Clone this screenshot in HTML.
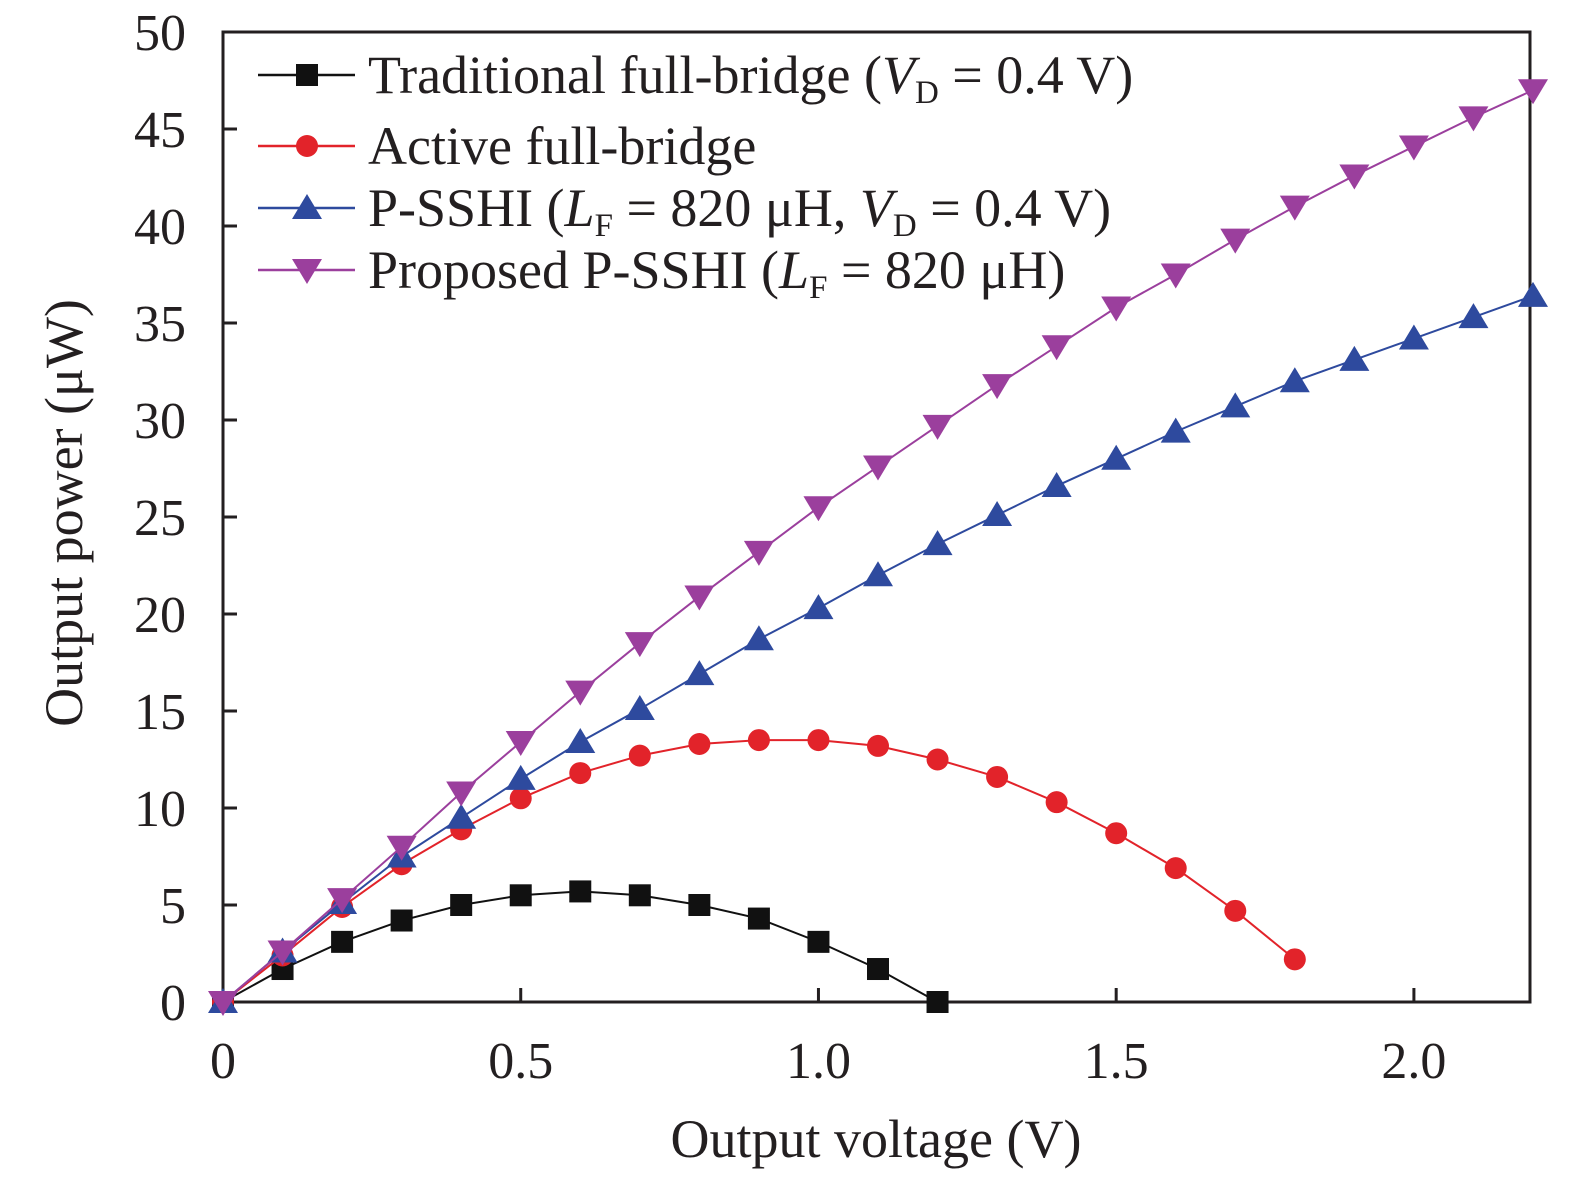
<!DOCTYPE html>
<html><head><meta charset="utf-8"><style>
html,body{margin:0;padding:0;background:#fff}
svg{display:block;font-family:"Liberation Serif",serif}
</style></head><body>
<svg id="chart" width="1575" height="1177" viewBox="0 0 1575 1177" xmlns="http://www.w3.org/2000/svg">
<g id="axes"></g><g id="series"></g><g id="legend"></g>
<text x="876" y="1157" font-size="54" text-anchor="middle" fill="#231f20">Output voltage (V)</text>
<text transform="translate(82,513) rotate(-90)" font-size="54" text-anchor="middle" fill="#231f20">Output power (μW)</text>
</svg>
<script>
const xVals=[0,0.1,0.2,0.3,0.4,0.5,0.6,0.7,0.8,0.9,1.0,1.1,1.2,1.3,1.4,1.5,1.6,1.7,1.8,1.9,2.0,2.1,2.2];
const traditional=[0,1.7,3.1,4.2,5.0,5.5,5.7,5.5,5.0,4.3,3.1,1.7,0];
const active=[0,2.4,4.9,7.1,8.9,10.5,11.8,12.7,13.3,13.5,13.5,13.2,12.5,11.6,10.3,8.7,6.9,4.7,2.2];
const psshi=[0,2.6,5.1,7.5,9.5,11.5,13.4,15.1,16.9,18.7,20.3,22.0,23.6,25.1,26.6,28.0,29.4,30.7,32.0,33.1,34.2,35.3,36.4];
const proposed=[0,2.6,5.3,8.0,10.8,13.4,16.0,18.5,20.9,23.2,25.5,27.6,29.7,31.8,33.8,35.8,37.5,39.3,41.0,42.6,44.1,45.6,47.0];
const xTicks=[0,0.5,1.0,1.5,2.0];
const xTickLabels=["0","0.5","1.0","1.5","2.0"];
const yTicks=[0,5,10,15,20,25,30,35,40,45,50];
const NS="http://www.w3.org/2000/svg";
const X0=223,X1=1533,Y0=1002,Y1=32;
const xs=v=>X0+v/2.2*(X1-X0);
const ys=v=>Y0-v/50*(Y0-Y1);
function mk(t,a,p){const e=document.createElementNS(NS,t);for(const k in a)e.setAttribute(k,a[k]);p.appendChild(e);return e;}
const axes=document.getElementById('axes');
const frame=mk('rect',{x:X0,y:Y1,width:X1-3-X0,height:Y0-Y1,fill:'none',stroke:'#231f20','stroke-width':3},axes);


xTicks.forEach((v,i)=>{
  const t=mk('line',{x1:xs(v),x2:xs(v),y1:Y0,y2:Y0-14,stroke:'#231f20','stroke-width':3},axes);
  
  
  const l=mk('text',{x:xs(v),y:1078,'font-size':52,'text-anchor':'middle',fill:'#231f20'},axes);
  l.textContent=xTickLabels[i];
  
  
});
yTicks.forEach(v=>{
  const t=mk('line',{x1:X0,x2:X0+14,y1:ys(v),y2:ys(v),stroke:'#231f20','stroke-width':3},axes);
  
  
  const l=mk('text',{x:186,y:ys(v)+18,'font-size':52,'text-anchor':'end',fill:'#231f20'},axes);
  l.textContent=v;
  
  
});
function marker(type,cx,cy,color,p){
  let e;
  if(type==='sq')e=mk('rect',{x:cx-11,y:cy-11,width:22,height:22,fill:color},p);
  else if(type==='ci')e=mk('circle',{cx:cx,cy:cy,r:11,fill:color},p);
  else if(type==='up')e=mk('polygon',{points:`${cx},${cy-14} ${cx-15},${cy+11} ${cx+15},${cy+11}`,fill:color},p);
  else e=mk('polygon',{points:`${cx},${cy+14} ${cx-15},${cy-11} ${cx+15},${cy-11}`,fill:color},p);
  return e;
}
const series=document.getElementById('series');
const defs=[
 {d:traditional,c:'#111',m:'sq',n:'traditional-full-bridge'},
 {d:active,c:'#e2232a',m:'ci',n:'active-full-bridge'},
 {d:psshi,c:'#2e4a9e',m:'up',n:'p-sshi'},
 {d:proposed,c:'#9b3f9d',m:'dn',n:'proposed-p-sshi'}];
defs.forEach(s=>{
  const g=mk('g',{},series);
  
  
  const pts=s.d.map((v,i)=>xs(xVals[i])+','+ys(v)).join(' ');
  mk('polyline',{points:pts,fill:'none',stroke:s.c,'stroke-width':2},g);
  s.d.forEach((v,i)=>{
    const m=marker(s.m,xs(xVals[i]),ys(v),s.c,g);
    
    
  });
});
const legend=document.getElementById('legend');
const labels=[
 'Traditional full-bridge (<tspan font-style="italic">V</tspan><tspan font-size="33" dy="10">D</tspan><tspan dy="-10"> = 0.4 V)</tspan>',
 'Active full-bridge',
 'P-SSHI (<tspan font-style="italic">L</tspan><tspan font-size="33" dy="10">F</tspan><tspan dy="-10"> = 820 μH, </tspan><tspan font-style="italic">V</tspan><tspan font-size="33" dy="10">D</tspan><tspan dy="-10"> = 0.4 V)</tspan>',
 'Proposed P-SSHI (<tspan font-style="italic">L</tspan><tspan font-size="33" dy="10">F</tspan><tspan dy="-10"> = 820 μH)</tspan>'];
const rowY=[75,146,208,270];
defs.forEach((s,i)=>{
  const g=mk('g',{},legend);
  
  
  mk('line',{x1:258,x2:355,y1:rowY[i],y2:rowY[i],stroke:s.c,'stroke-width':2.5},g);
  marker(s.m,307,rowY[i],s.c,g);
  const t=mk('text',{x:368,y:rowY[i]+18,'font-size':54,fill:'#231f20'},g);
  t.innerHTML=labels[i];
});
</script>
</body></html>
